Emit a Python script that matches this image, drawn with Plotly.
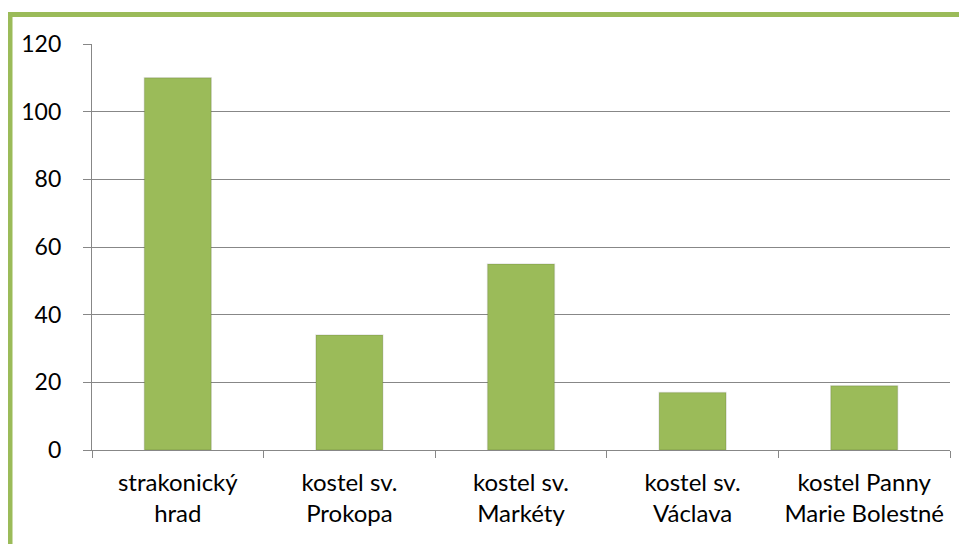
import plotly.graph_objects as go

categories = ["strakonický<br>hrad", "kostel sv.<br>Prokopa", "kostel sv.<br>Markéty",
              "kostel sv.<br>Václava", "kostel Panny<br>Marie Bolestné"]
values = [110, 34, 55, 17, 19]
y_ticks = [0, 20, 40, 60, 80, 100, 120]

W, H = 967, 544
OFF = 8  # default page body margin
L, R, T, B = 92 - OFF, 17 + OFF, 44 - OFF, 94 + OFF
pw, ph = W - L - R, H - T - B

def px_x(x):
    return (x - OFF - L) / pw

def px_y(y):
    return (H - B - (y - OFF)) / ph

green = "#9BBB59"
grid = "#878787"

fig = go.Figure(go.Bar(
    x=categories, y=values,
    marker=dict(color=green, line=dict(color="rgba(0,0,0,0.10)", width=1.5)),
    width=0.39,
))

fig.update_layout(
    width=W, height=H,
    margin=dict(l=L, r=R, t=T, b=B, autoexpand=False),
    paper_bgcolor="white", plot_bgcolor="white",
    font=dict(family="Lato, Carlito, sans-serif", size=22, color="black"),
    showlegend=False,
    shapes=[dict(type="rect", xref="paper", yref="paper",
                 x0=px_x(10), x1=px_x(1100), y0=px_y(700), y1=px_y(14.5),
                 line=dict(color=green, width=5), fillcolor="rgba(0,0,0,0)", layer="below")],
)
fig.update_xaxes(
    type="category", showline=True, linecolor=grid, linewidth=1.3,
    ticks="outside", tickson="boundaries", ticklen=7, tickcolor=grid, tickwidth=1.3,
    showgrid=False, ticklabelstandoff=11,
    tickfont=dict(size=24),
)
fig.update_yaxes(
    range=[0, 120], tickvals=y_ticks, showline=True, linecolor=grid, linewidth=1.3,
    ticks="outside", ticklen=8, tickcolor=grid, tickwidth=1.3,
    showgrid=True, gridcolor=grid, gridwidth=1.3, zeroline=False,
    ticklabelstandoff=17, tickfont=dict(size=23),
)

fig.write_html("out.html")
